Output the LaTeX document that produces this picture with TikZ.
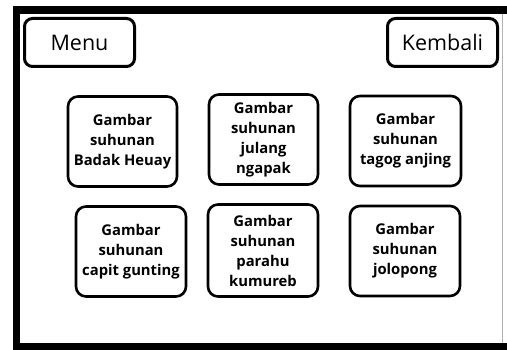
\documentclass[tikz,border=0pt]{standalone}
\usepackage{fontspec}
\setmainfont{Open Sans}
\usepackage{tikz}

\tikzset{
  navbtn/.style={draw, line width=3pt, rounded corners=8pt, minimum width=110pt, minimum height=48pt, inner sep=0pt, font=\fontsize{21.5}{25}\selectfont},
  gambarbox/.style={draw, line width=2.6pt, rounded corners=10pt, minimum width=109pt, minimum height=90pt, inner sep=0pt, align=center, font=\fontsize{14.8}{20}\selectfont\bfseries}
}

\begin{document}
\begin{tikzpicture}[x=1pt, y=-1pt]
  \useasboundingbox (0,0) rectangle (507,350);
  % frame
  \fill[black] (13,6) rectangle (507,350);
  \fill[white] (20,14) rectangle (507,343);
  \draw[gray!60, line width=0.8pt] (502,14) -- (502,343);

  % top buttons
  \node[navbtn] (menu) at (79.5,42.5) {Menu};
  \node[navbtn] (kembali) at (442.5,42.5) {Kembali};

  % first row
  \node[gambarbox] (badak) at (122.5,141.5) {Gambar\\suhunan\\Badak Heuay};
  \node[gambarbox] (julang) at (263.5,139.5) {Gambar\\suhunan\\julang\\ngapak};
  \node[gambarbox, minimum width=111pt] (tagog) at (405.5,141) {Gambar\\suhunan\\tagog anjing};

  % second row
  \node[gambarbox, minimum width=110pt] (capit) at (131,251.5) {Gambar\\suhunan\\capit gunting};
  \node[gambarbox, minimum width=110pt, minimum height=92pt] (parahu) at (263,250.5) {Gambar\\suhunan\\parahu\\kumureb};
  \node[gambarbox, minimum width=110pt] (jolopong) at (405,251) {Gambar\\suhunan\\jolopong};
\end{tikzpicture}
\end{document}
